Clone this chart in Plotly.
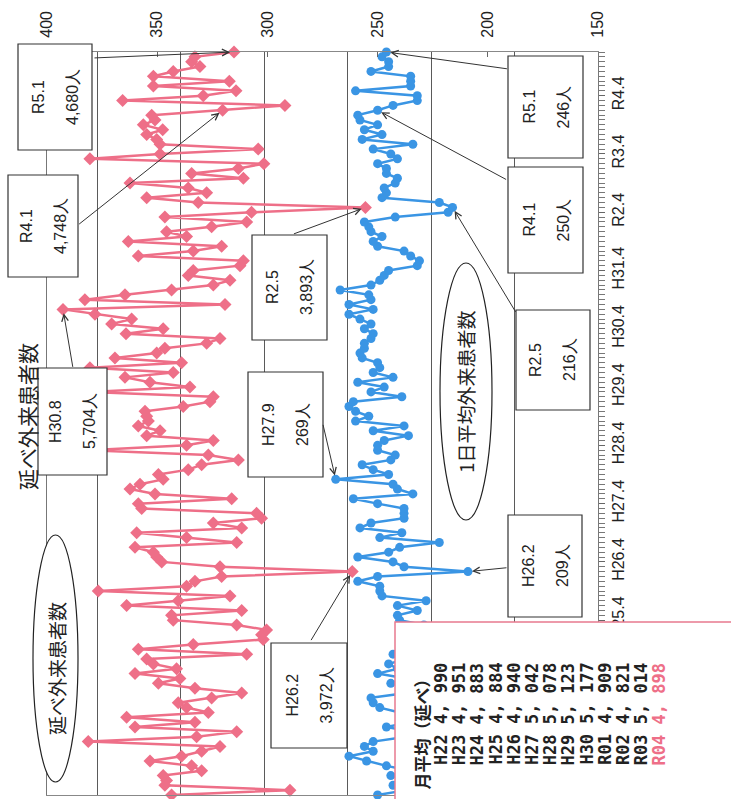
import plotly.graph_objects as go

# ---------------- data ----------------
def era_label(y, m):
    if (y, m) < (2019, 5):
        return f"H{y - 1988}.{m}"
    return f"R{y - 2018}.{m}"

months = []
_y, _m = 2010, 4
while (_y, _m) <= (2023, 1):
    months.append(era_label(_y, _m))
    _m += 1
    if _m > 12:
        _m, _y = 1, _y + 1

# 延べ外来患者数 (monthly total outpatients), H22.4 .. R5.1
total_patients = [
    5054, 4345, 5094, 5084, 5104, 4874, 4934, 5183, 4994, 4874,
    4764, 5553, 4904, 4664, 5273, 4914, 5323, 4834, 4964, 5014,
    4814, 4634, 4914, 5133, 5004, 5273, 5024, 5163, 5203, 4604,
    5253, 4924, 4505, 4515, 4485, 4664, 5044, 5054, 4634, 5323,
    5014, 4704, 5493, 4964, 4914, 4754, 3972, 4764, 5113, 5143,
    5163, 5273, 4664, 4964, 5263, 4634, 4804, 4515, 4545, 5233,
    5253, 4694, 5153, 5303, 5243, 5104, 5133, 4954, 4874, 4654,
    4834, 5550, 4964, 4804, 5203, 5123, 5253, 5193, 5203, 5213,
    4984, 4824, 4804, 5543, 4944, 5183, 5333, 5044, 5543, 4994,
    5393, 5143, 5094, 4844, 4764, 5327, 5104, 5413, 5293, 5513,
    5704, 4734, 5573, 5333, 5054, 4804, 4704, 4954, 4924, 4644,
    4624, 5253, 4924, 4754, 5313, 4964, 5084, 4814, 4604, 5094,
    4575, 3893, 4894, 5203, 4844, 4954, 5303, 4624, 4934, 4654,
    4501, 5543, 5123, 4535, 5123, 5143, 5203, 5107, 5223, 5153,
    5173, 4748, 4375, 5347, 4864, 4668, 5163, 4708, 5163, 5044,
    4884, 4934, 4914, 4680,
]

# 1日平均外来患者数 (daily average outpatients), H22.4 .. R5.1
daily_avg = [
    250, 237, 243, 234, 244, 235, 246, 255, 263, 252,
    256, 252, 237, 234, 246, 235, 232, 240, 249, 252,
    253, 237, 234, 244, 237, 250, 241, 245, 237, 243,
    235, 237, 234, 238, 232, 229, 240, 241, 232, 241,
    228, 248, 249, 249, 259, 250, 209, 238, 243, 259,
    245, 240, 222, 249, 239, 258, 253, 238, 238, 238,
    250, 261, 234, 241, 243, 269, 245, 252, 257, 244,
    242, 250, 250, 247, 236, 252, 238, 260, 254, 260,
    263, 261, 239, 253, 247, 259, 243, 252, 249, 250,
    257, 258, 256, 256, 253, 252, 256, 253, 258, 263,
    252, 263, 253, 254, 267, 253, 249, 247, 245, 232,
    231, 235, 238, 250, 252, 248, 253, 254, 256, 242,
    218, 216, 222, 248, 246, 247, 242, 241, 246, 246,
    250, 241, 244, 252, 234, 257, 248, 256, 250, 258,
    259, 250, 243, 232, 232, 260, 235, 235, 235, 253,
    245, 245, 248, 246,
]

axis_ticks_daily = [150, 200, 250, 300, 350, 400]

table_years = ["H22", "H23", "H24", "H25", "H26", "H27", "H28",
               "H29", "H30", "R01", "R02", "R03", "R04"]
table_avg = [4990, 4951, 4883, 4884, 4940, 5042, 5078,
             5123, 5177, 4909, 4821, 5014, 4898]

# ---------------- styling / layout helpers ----------------
PINK = "#EE6F88"
BLUE = "#3A95E4"
W, H = 731, 799
L, R, T, B = 47, 598, 52, 795


def px(xp):
    return (xp - L) / (R - L)


def py(yp):
    return (B - yp) / (B - T)


idx = list(range(len(months)))
april_idx = [i for i, lab in enumerate(months) if lab.endswith(".4")]
april_lab = [months[i] for i in april_idx]

fig = go.Figure()
fig.add_trace(go.Scatter(
    x=total_patients, y=idx, xaxis="x2", yaxis="y", mode="lines+markers",
    line=dict(color=PINK, width=2.5),
    marker=dict(symbol="diamond", size=10, color=PINK),
    cliponaxis=False, name="延べ外来患者数", showlegend=False,
))
fig.add_trace(go.Scatter(
    x=daily_avg, y=idx, xaxis="x", yaxis="y", mode="lines+markers",
    line=dict(color=BLUE, width=2.5),
    marker=dict(symbol="circle", size=9, color=BLUE),
    cliponaxis=False, name="1日平均外来患者数", showlegend=False,
))

shapes = []
annotations = []


def label(xp, yp, text, size, family="Noto Sans CJK JP", color="#222",
          xanchor="center", yanchor="middle"):
    annotations.append(dict(xref="paper", yref="paper", x=px(xp), y=py(yp),
                            text=text, showarrow=False, textangle=-90,
                            xanchor=xanchor, yanchor=yanchor,
                            font=dict(family=family, size=size, color=color)))


# callout boxes
boxes = [
    (18, 44, 92, 150, "R5.1", "4,680人"),
    (8, 175, 78, 277, "R4.1", "4,748人"),
    (38, 368, 107, 475, "H30.8", "5,704人"),
    (252, 235, 327, 340, "R2.5", "3,893人"),
    (248, 372, 323, 477, "H27.9", "269人"),
    (271, 643, 347, 748, "H26.2", "3,972人"),
    (508, 56, 583, 158, "R5.1", "246人"),
    (508, 167, 583, 273, "R4.1", "250人"),
    (516, 310, 590, 410, "R2.5", "216人"),
    (508, 515, 582, 617, "H26.2", "209人"),
]
for x0, y0, x1, y1, t1, t2 in boxes:
    shapes.append(dict(type="rect", xref="paper", yref="paper",
                       x0=px(x0), x1=px(x1), y0=py(y1), y1=py(y0),
                       line=dict(color="#333", width=1.2), fillcolor="white",
                       layer="above"))
    cx, cy = (x0 + x1) / 2, (y0 + y1) / 2
    for dx, t in ((-17, t1), (17, t2)):
        label(cx + dx, cy, t, 16, family="Liberation Sans, Arial")

# arrows: (series axis, index, series, ax, ay)
arrows = [
    ("x2", 153, total_patients, -141, 6),
    ("x2", 141, total_patients, -145, 115),
    ("x2", 100, total_patients, 10, 59),
    ("x2", 121, total_patients, -73, 27),
    ("x", 65, daily_avg, -13, -56),
    ("x2", 46, total_patients, -42, 70),
    ("x", 153, daily_avg, 122, 17),
    ("x", 141, daily_avg, 130, 70),
    ("x", 121, daily_avg, 64, 106),
    ("x", 46, daily_avg, 40, -4),
]
for xr, k, series, ax, ay in arrows:
    annotations.append(dict(xref=xr, yref="y", x=series[k], y=idx[k], text="",
                            showarrow=True, arrowhead=5, arrowsize=1.3, arrowwidth=1,
                            arrowcolor="#333", ax=ax, ay=ay, standoff=4))

# ellipses with labels
shapes.append(dict(type="circle", xref="paper", yref="paper",
                   x0=px(33), x1=px(78), y0=py(782), y1=py(535),
                   line=dict(color="#222", width=1.2), fillcolor="white", layer="above"))
label(56, 669, "延べ外来患者数", 19)
shapes.append(dict(type="circle", xref="paper", yref="paper",
                   x0=px(440), x1=px(492), y0=py(520), y1=py(263),
                   line=dict(color="#222", width=1.2), fillcolor="white", layer="above"))
label(465, 392, "1日平均外来患者数", 19)

# chart title at left
label(27, 417, "延べ外来患者数", 21)

# monthly-average table
shapes.append(dict(type="rect", xref="paper", yref="paper",
                   x0=px(395), x1=px(760), y0=py(820), y1=py(622),
                   line=dict(color="#E77A8E", width=1.5), fillcolor="white", layer="above"))
label(421, 792, "<b>月平均（延べ）</b>", 17, yanchor="bottom")
for i, (yr, v) in enumerate(zip(table_years, table_avg)):
    col = PINK if yr == "R04" else "#222"
    label(441 + 18.2 * i, 767, f"<b>{yr} {v // 1000}, {v % 1000:03d}</b>", 17,
          family="DejaVu Sans Mono", color=col, yanchor="bottom")

fig.update_layout(
    width=W, height=H,
    margin=dict(l=L, r=W - R, t=T, b=H - B, pad=0),
    paper_bgcolor="white", plot_bgcolor="white",
    showlegend=False,
    font=dict(family="Liberation Sans, Arial", color="#222"),
    xaxis=dict(range=[400, 150], side="top", tickvals=axis_ticks_daily,
               tickangle=-90, ticks="inside", ticklen=5, tickcolor="#666",
               showgrid=False, zeroline=False, showline=True, linecolor="#888",
               linewidth=1.2, tickfont=dict(size=16), ticklabelstandoff=10),
    xaxis2=dict(range=[5800, 2500], overlaying="x", side="bottom", tick0=0, dtick=500,
                showgrid=True, gridcolor="#5a5a5a", gridwidth=1, zeroline=False,
                showticklabels=False, ticks="", showline=True, linecolor="#888",
                linewidth=1.2),
    yaxis=dict(range=[0, len(months) - 1], side="right", tickvals=april_idx,
               ticktext=april_lab, tickangle=-90, ticks="outside", ticklen=6,
               tickcolor="#666", showgrid=False, zeroline=False, showline=True,
               linecolor="#777", linewidth=1.2, mirror=True,
               tickfont=dict(size=16),
               minor=dict(dtick=1, tick0=0, ticks="outside", ticklen=6, tickcolor="#777")),
    shapes=shapes,
    annotations=annotations,
)

fig.write_html("out.html",
               config={"displayModeBar": False},
               post_script="document.body.style.margin='0px';"
                           "document.body.style.overflow='hidden';")
